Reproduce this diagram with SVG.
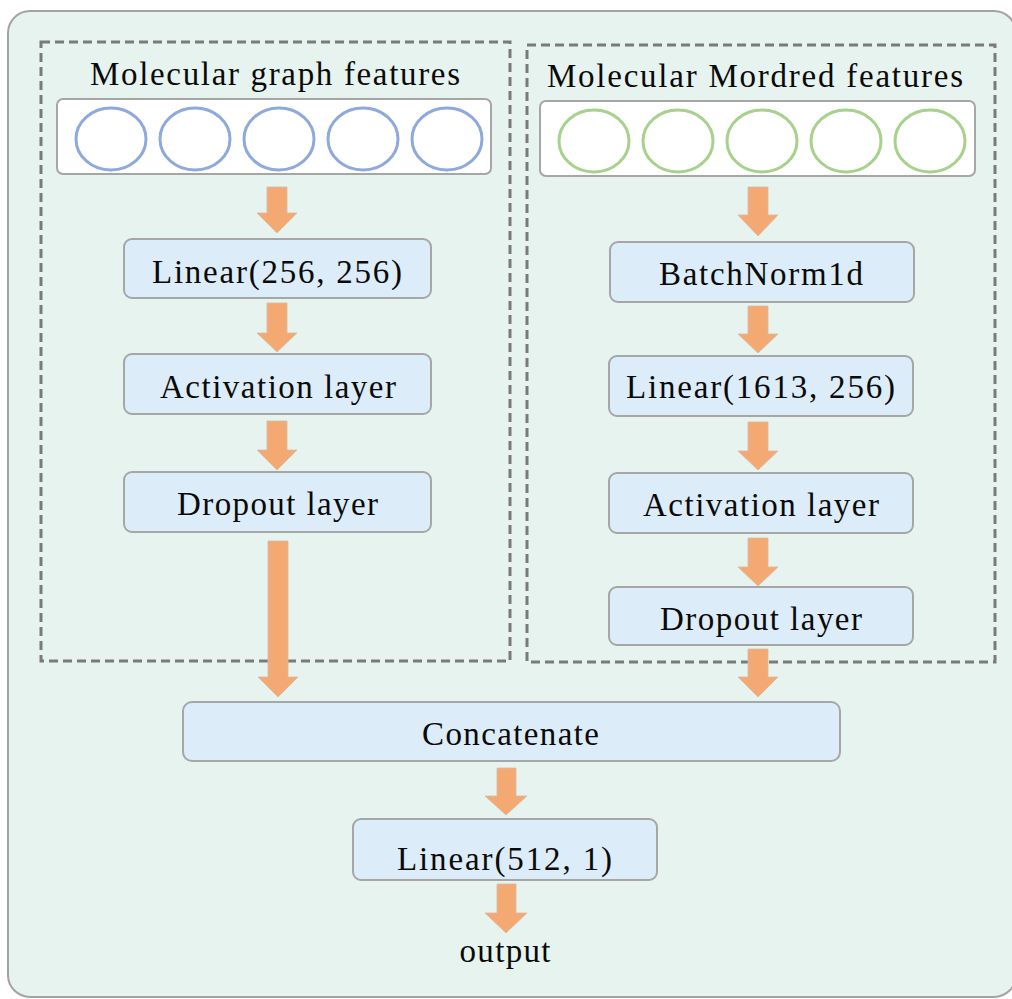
<svg xmlns="http://www.w3.org/2000/svg" width="1012" height="999" viewBox="0 0 1012 999">
<style>
.bg{fill:#E6F3EF;stroke:#A3A3A3;stroke-width:2}
.dash{fill:none;stroke:#7A7A7A;stroke-width:3;stroke-dasharray:9 5}
.inbox{fill:#FFFFFF;stroke:#A6A6A6;stroke-width:2}
.box{fill:#DCEDF9;stroke:#A6A6A6;stroke-width:2}
.cb{fill:none;stroke:#8EA9DB;stroke-width:3}
.cg{fill:none;stroke:#A9D18E;stroke-width:3}
.arr{fill:#F4A973;stroke:#D9B9A3;stroke-width:0.8}
text{font-family:"Liberation Serif","Times New Roman",serif;font-size:33px;fill:#0A0A0A;text-anchor:middle}
</style>
<rect class="bg" x="8" y="11" width="1008" height="986" rx="22"/>
<rect class="dash" x="41" y="42" width="469" height="619"/>
<rect class="dash" x="527" y="45" width="468" height="617"/>

<g id="graph_features">
<text x="275" y="85" font-size="34" textLength="370" lengthAdjust="spacing">Molecular graph features</text>
<rect class="inbox" x="57" y="99" width="434" height="75" rx="6"/>
<ellipse class="cb" cx="111" cy="139" rx="35" ry="31"/>
<ellipse class="cb" cx="195" cy="139" rx="35" ry="31"/>
<ellipse class="cb" cx="279" cy="139" rx="35" ry="31"/>
<ellipse class="cb" cx="363" cy="139" rx="35" ry="31"/>
<ellipse class="cb" cx="447" cy="139" rx="35" ry="31"/>
</g>
<g id="mordred_features">
<text x="755" y="87" font-size="34" textLength="416" lengthAdjust="spacing">Molecular Mordred features</text>
<rect class="inbox" x="540" y="101" width="435" height="75" rx="6"/>
<ellipse class="cg" cx="594" cy="141" rx="35" ry="31"/>
<ellipse class="cg" cx="678" cy="141" rx="35" ry="31"/>
<ellipse class="cg" cx="762" cy="141" rx="35" ry="31"/>
<ellipse class="cg" cx="846" cy="141" rx="35" ry="31"/>
<ellipse class="cg" cx="930" cy="141" rx="35" ry="31"/>
</g>

<g id="linear_256"><rect class="box" x="124" y="239" width="307" height="59" rx="8"/><text x="277" y="283" textLength="250" lengthAdjust="spacing">Linear(256, 256)</text></g>
<g id="activation_left"><rect class="box" x="124" y="354" width="307" height="60" rx="8"/><text x="278" y="398" textLength="236" lengthAdjust="spacing">Activation layer</text></g>
<g id="dropout_left"><rect class="box" x="124" y="472" width="307" height="60" rx="8"/><text x="277.5" y="515" textLength="201" lengthAdjust="spacing">Dropout layer</text></g>

<g id="batchnorm"><rect class="box" x="610" y="242" width="304" height="60" rx="8"/><text x="761" y="285" textLength="204" lengthAdjust="spacing">BatchNorm1d</text></g>
<g id="linear_1613"><rect class="box" x="609" y="356" width="304" height="60" rx="8"/><text x="760.5" y="398" textLength="269" lengthAdjust="spacing">Linear(1613, 256)</text></g>
<g id="activation_right"><rect class="box" x="609" y="473" width="304" height="60" rx="8"/><text x="761" y="516" textLength="236" lengthAdjust="spacing">Activation layer</text></g>
<g id="dropout_right"><rect class="box" x="609" y="587" width="304" height="58" rx="8"/><text x="761" y="630" textLength="202" lengthAdjust="spacing">Dropout layer</text></g>

<g id="concatenate"><rect class="box" x="183" y="702" width="657" height="59" rx="9"/><text x="510.5" y="745" textLength="177" lengthAdjust="spacing">Concatenate</text></g>
<g id="linear_512"><rect class="box" x="353" y="819" width="304" height="61" rx="8"/><text x="504.5" y="870" textLength="215" lengthAdjust="spacing">Linear(512, 1)</text></g>
<g id="output"><text x="505" y="962" textLength="91" lengthAdjust="spacing">output</text></g>

<g id="connectors">
<polygon class="arr" points="267,187 287,187 287,213 297,213 277,233 257,213 267,213"/>
<polygon class="arr" points="267,303 287,303 287,333 297,333 277,352 257,333 267,333"/>
<polygon class="arr" points="267,421 287,421 287,450 297,450 277,470 257,450 267,450"/>
<polygon class="arr" points="268,541 288,541 288,677 298,677 278,697 258,677 268,677"/>
<polygon class="arr" points="748,187 768,187 768,215 778,215 758,236 738,215 748,215"/>
<polygon class="arr" points="748,306 768,306 768,334 778,334 758,353 738,334 748,334"/>
<polygon class="arr" points="748,422 768,422 768,451 778,451 758,470 738,451 748,451"/>
<polygon class="arr" points="748,538 768,538 768,567 778,567 758,586 738,567 748,567"/>
<polygon class="arr" points="748,649 768,649 768,677 778,677 758,697 738,677 748,677"/>
<polygon class="arr" points="497,768 516,768 516,796 527,796 506,815 485,796 497,796"/>
<polygon class="arr" points="497,884 516,884 516,913 527,913 506,933 485,913 497,913"/>
</g>
</svg>
